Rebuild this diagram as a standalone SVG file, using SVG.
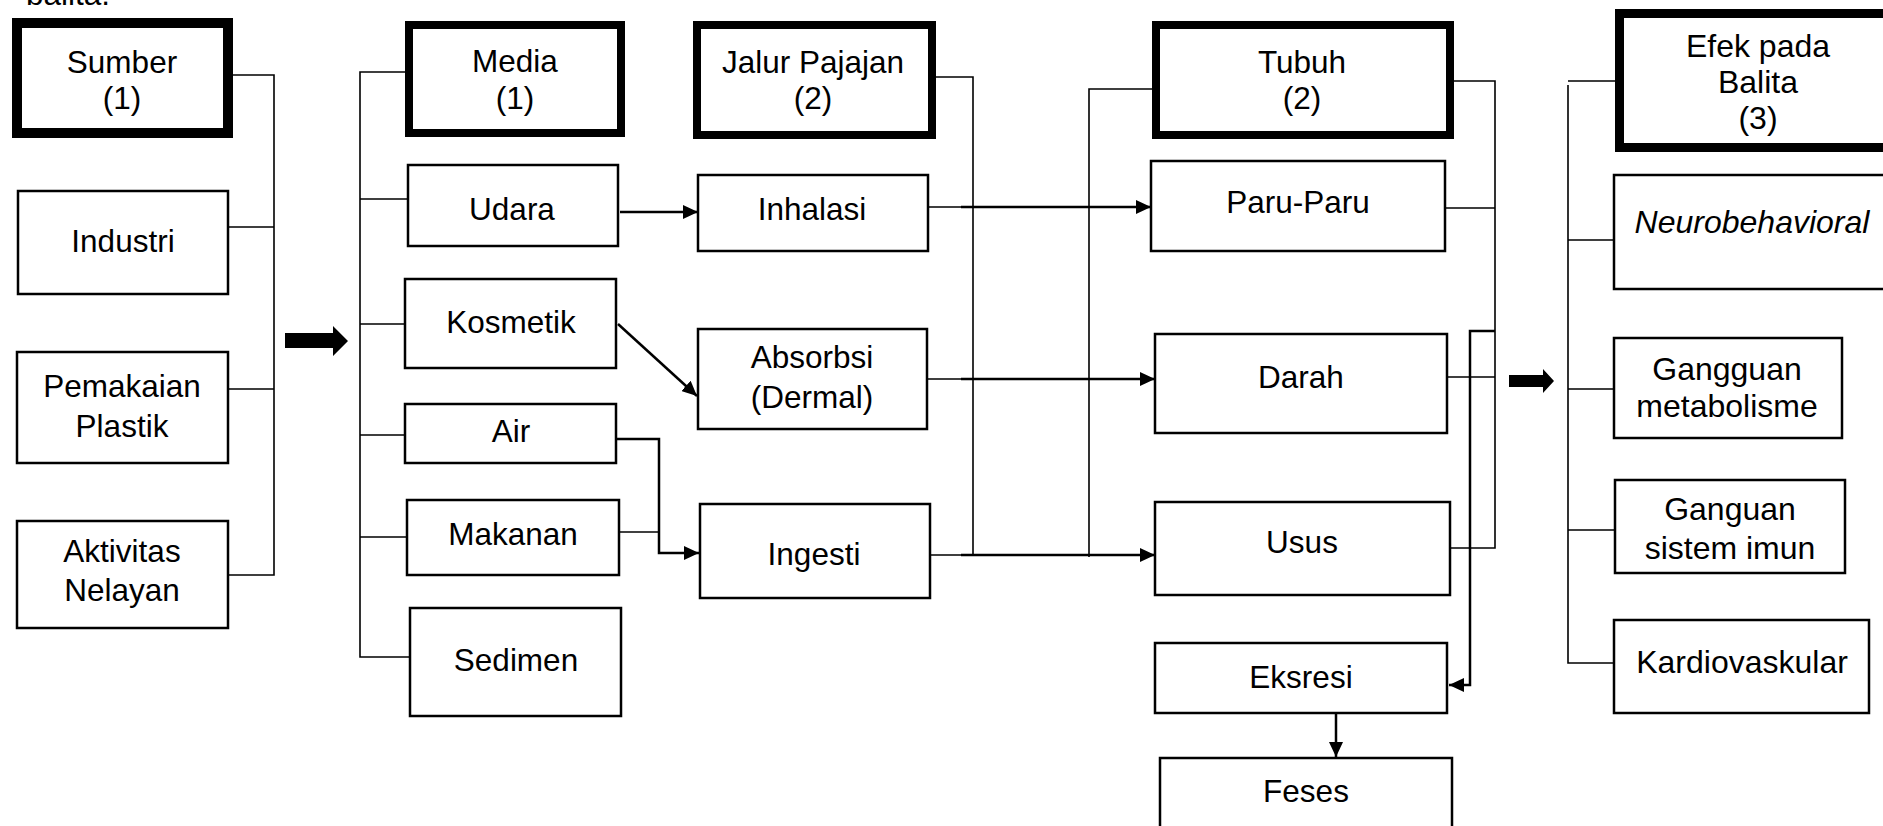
<svg xmlns="http://www.w3.org/2000/svg" width="1883" height="826" viewBox="0 0 1883 826">
<defs>
<style>
text{font-family:"Liberation Sans",Arial,sans-serif;font-size:31.5px;fill:#000;text-anchor:middle}
.r{font-size:32px}
.box{fill:#fff;stroke:#000;stroke-width:2.5}
.hd{fill:#fff;stroke:#000;stroke-width:8}
.c{fill:none;stroke:#000;stroke-width:1.6}
.a{fill:none;stroke:#000;stroke-width:2.5}
.big{fill:#000;stroke:none}
</style>
<marker id="ah" viewBox="0 0 15 14" refX="15" refY="7" markerWidth="15" markerHeight="14" markerUnits="userSpaceOnUse" orient="auto">
<path d="M0,0 L15,7 L0,14 Z" fill="#000"/>
</marker>
</defs>
<rect width="1883" height="826" fill="#fff"/>
<text x="26" y="5" style="text-anchor:start">balita.</text>

<g id="connectors">
<path class="c" d="M233,75 H274 V575 H229 M229,227 H274 M229,389 H274"/>
<polygon class="big" points="285,333 333,333 333,326 348,341 333,356 333,348 285,348"/>
<path class="c" d="M405,72 H360 V657 H410 M360,199 H408 M360,324 H405 M360,435 H405 M360,537 H407"/>
<path class="a" d="M620,212 H698" marker-end="url(#ah)"/>
<path class="a" d="M618,324 L697,396" marker-end="url(#ah)"/>
<path class="a" d="M617,439 H659 V553 H699" marker-end="url(#ah)"/>
<path class="c" d="M620,532 H659"/>
<path class="c" d="M936,77 H973 V555 M929,207 H973 M928,379 H973 M931,555 H973"/>
<path class="a" d="M961,207 H1151" marker-end="url(#ah)"/>
<path class="a" d="M961,379 H1155" marker-end="url(#ah)"/>
<path class="a" d="M961,555 H1155" marker-end="url(#ah)"/>
<path class="c" d="M1152,89 H1089 V557"/>
<path class="c" d="M1454,81 H1495 V548 H1451 M1446,208 H1495 M1448,377 H1495"/>
<path class="a" d="M1495,331 H1470 V685 H1449" marker-end="url(#ah)"/>
<path class="a" d="M1336,714 V757" marker-end="url(#ah)"/>
<polygon class="big" points="1509,375 1543,375 1543,369 1554,381 1543,393 1543,387 1509,387"/>
<path class="c" d="M1615,81 H1568 M1568,85 V663 H1613 M1568,240 H1613 M1568,389 H1613 M1568,530 H1614"/>
</g>

<g id="sumber"><rect x="17" y="23" width="211" height="110" fill="#fff" stroke="#000" stroke-width="10"/><text x="122" y="73">Sumber</text><text x="122" y="109">(1)</text></g>
<g id="industri"><rect class="box" x="18" y="191" width="210" height="103"/><text x="123" y="252">Industri</text></g>
<g id="pemakaian"><rect class="box" x="17" y="352" width="211" height="111"/><text x="122" y="397">Pemakaian</text><text x="122" y="437">Plastik</text></g>
<g id="aktivitas"><rect class="box" x="17" y="521" width="211" height="107"/><text x="122" y="562">Aktivitas</text><text x="122" y="601">Nelayan</text></g>

<g id="media"><rect class="hd" x="409" y="25" width="212" height="108"/><text x="515" y="72">Media</text><text x="515" y="109">(1)</text></g>
<g id="udara"><rect class="box" x="408" y="165" width="210" height="81"/><text x="512" y="220">Udara</text></g>
<g id="kosmetik"><rect class="box" x="405" y="279" width="211" height="89"/><text x="511" y="333">Kosmetik</text></g>
<g id="air"><rect class="box" x="405" y="404" width="211" height="59"/><text x="511" y="442">Air</text></g>
<g id="makanan"><rect class="box" x="407" y="500" width="212" height="75"/><text x="513" y="545">Makanan</text></g>
<g id="sedimen"><rect class="box" x="410" y="608" width="211" height="108"/><text x="516" y="671">Sedimen</text></g>

<g id="jalur"><rect class="hd" x="697" y="25" width="235" height="110"/><text x="813" y="73">Jalur Pajajan</text><text x="813" y="109">(2)</text></g>
<g id="inhalasi"><rect class="box" x="698" y="175" width="230" height="76"/><text x="812" y="220">Inhalasi</text></g>
<g id="absorbsi"><rect class="box" x="698" y="329" width="229" height="100"/><text x="812" y="368">Absorbsi</text><text x="812" y="408">(Dermal)</text></g>
<g id="ingesti"><rect class="box" x="700" y="504" width="230" height="94"/><text x="814" y="565">Ingesti</text></g>

<g id="tubuh"><rect class="hd" x="1156" y="25" width="294" height="110"/><text x="1302" y="73">Tubuh</text><text x="1302" y="109">(2)</text></g>
<g id="paru"><rect class="box" x="1151" y="161" width="294" height="90"/><text x="1298" y="213">Paru-Paru</text></g>
<g id="darah"><rect class="box" x="1155" y="334" width="292" height="99"/><text x="1301" y="388">Darah</text></g>
<g id="usus"><rect class="box" x="1155" y="502" width="295" height="93"/><text x="1302" y="553">Usus</text></g>
<g id="eksresi"><rect class="box" x="1155" y="643" width="292" height="70"/><text x="1301" y="688">Eksresi</text></g>
<g id="feses"><rect class="box" x="1160" y="758" width="292" height="80"/><text x="1306" y="802">Feses</text></g>

<g id="efek"><rect x="1619.5" y="13.5" width="300" height="134" fill="#fff" stroke="#000" stroke-width="9"/><text class="r" x="1758" y="57">Efek pada</text><text class="r" x="1758" y="93">Balita</text><text class="r" x="1758" y="129">(3)</text></g>
<g id="neuro"><rect class="box" x="1614" y="175" width="290" height="114"/><text class="r" x="1752" y="233" font-style="italic">Neurobehavioral</text></g>
<g id="metabolisme"><rect class="box" x="1614" y="338" width="228" height="100"/><text class="r" x="1727" y="380">Gangguan</text><text class="r" x="1727" y="417">metabolisme</text></g>
<g id="imun"><rect class="box" x="1615" y="480" width="230" height="93"/><text class="r" x="1730" y="520">Ganguan</text><text class="r" x="1730" y="559">sistem imun</text></g>
<g id="kardio"><rect class="box" x="1614" y="620" width="255" height="93"/><text class="r" x="1742" y="673">Kardiovaskular</text></g>
</svg>
